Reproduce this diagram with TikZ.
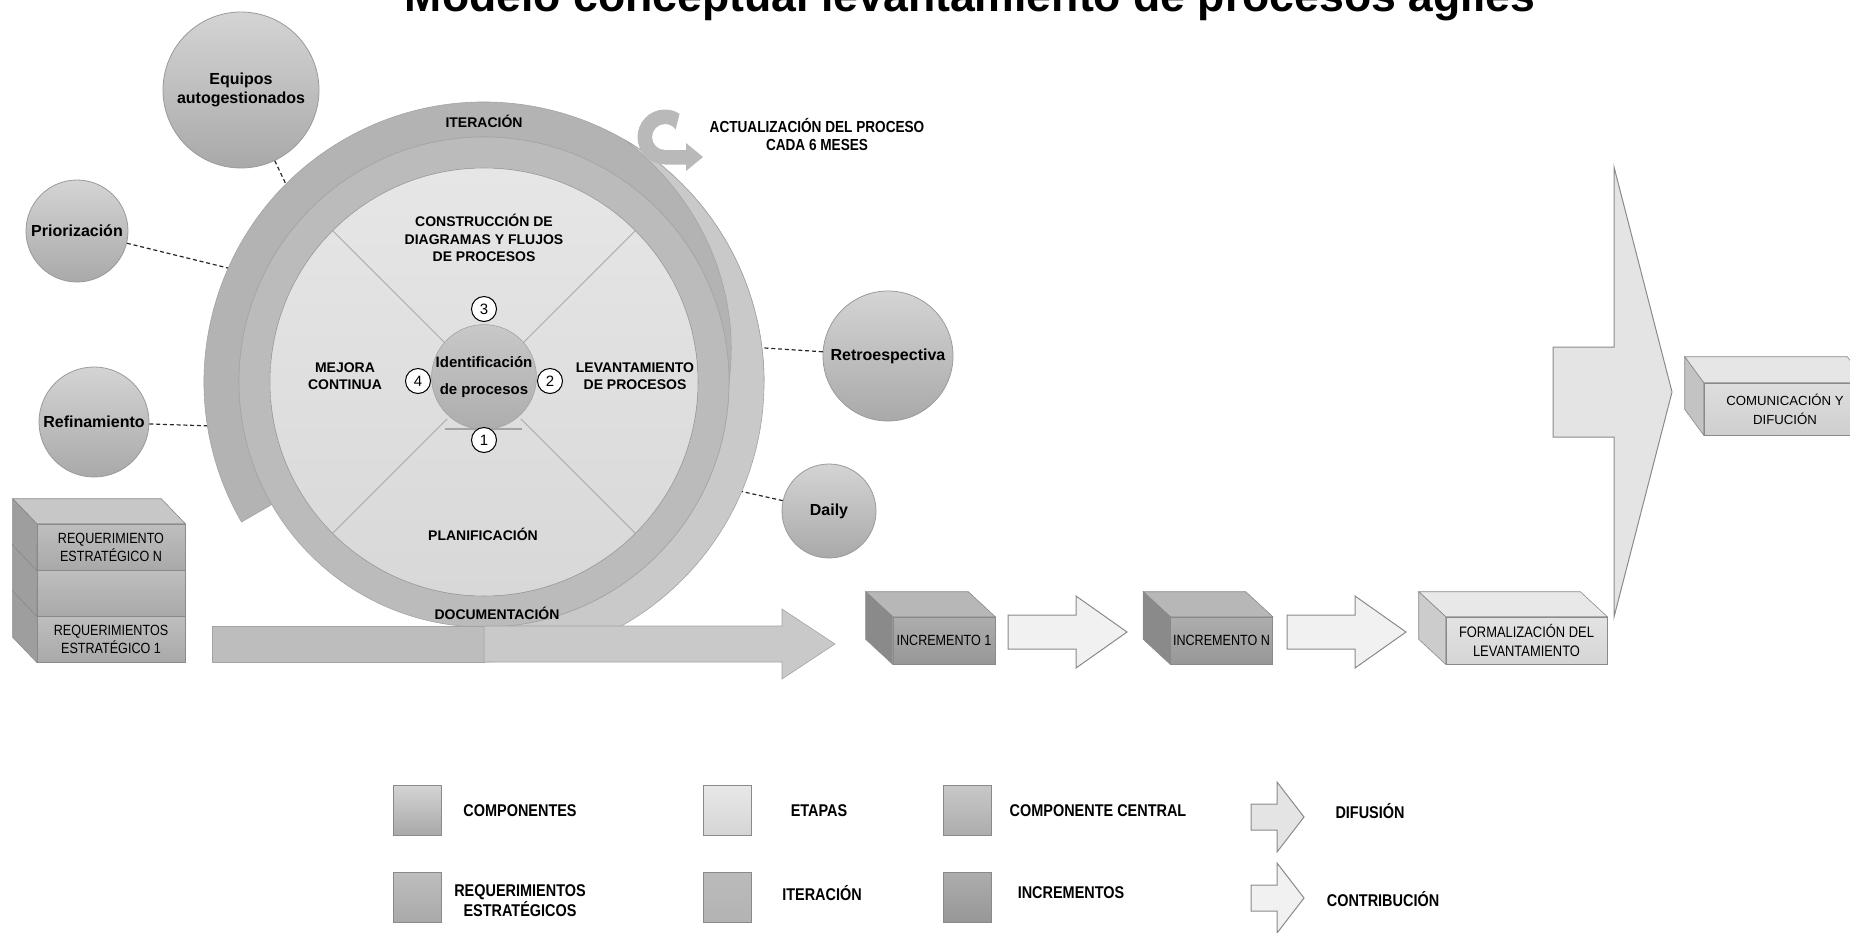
\documentclass[tikz,border=0pt]{standalone}
\usepackage{fontspec}
\setmainfont{Liberation Sans}
\newfontfamily\narrowfont[FakeStretch=0.85]{Liberation Sans}
\usetikzlibrary{calc}

\definecolor{iterband}{HTML}{B3B3B3}
\definecolor{spiralband}{HTML}{C9C9C9}
\definecolor{innerband}{HTML}{BBBBBB}
\definecolor{disktop}{HTML}{E6E6E6}
\definecolor{diskbot}{HTML}{D8D8D8}
\definecolor{ringline}{HTML}{A4A4A4}
\definecolor{quadline}{HTML}{A8A8A8}
\definecolor{arrowleft}{HTML}{BDBDBD}
\definecolor{bubtop}{HTML}{D4D4D4}
\definecolor{bubbot}{HTML}{A9A9A9}
\definecolor{bubline}{HTML}{9A9A9A}
\definecolor{centtop}{HTML}{C8C8C8}
\definecolor{centbot}{HTML}{ADADAD}
\definecolor{edgegray}{HTML}{8A8A8A}
\definecolor{reqtop}{HTML}{BEBEBE}
\definecolor{reqbot}{HTML}{A9A9A9}
\definecolor{reqtopface}{HTML}{C7C7C7}
\definecolor{reqside}{HTML}{9E9E9E}
\definecolor{inctop}{HTML}{ADADAD}
\definecolor{incbot}{HTML}{979797}
\definecolor{inctopface}{HTML}{B7B7B7}
\definecolor{incside}{HTML}{8A8A8A}
\definecolor{formtop}{HTML}{E3E3E3}
\definecolor{formbot}{HTML}{D5D5D5}
\definecolor{formtopface}{HTML}{E8E8E8}
\definecolor{formside}{HTML}{CCCCCC}
\definecolor{commtop}{HTML}{DEDEDE}
\definecolor{commbot}{HTML}{CFCFCF}
\definecolor{commtopface}{HTML}{E6E6E6}
\definecolor{commside}{HTML}{C3C3C3}
\definecolor{contribfill}{HTML}{F1F1F1}
\definecolor{spreadfill}{HTML}{E4E4E4}
\definecolor{updfill}{HTML}{B9B9B9}

\newcommand\cubefaces[5]{%
  \filldraw[fill=#4, draw=edgegray, line width=0.3pt] (#1.north west) -- ++(#2,#3) -- ($(#1.north east)+(#2,#3)$) -- (#1.north east) -- cycle;
  \filldraw[fill=#5, draw=edgegray, line width=0.3pt] (#1.north west) -- ++(#2,#3) -- ($(#1.south west)+(#2,#3)$) -- (#1.south west) -- cycle;}
\newcommand\blockarrow[7][]{%
  \filldraw[#1] (#2,#3-#7) -- (#4-#5,#3-#7) -- (#4-#5,#3-#6) -- (#4,#3) -- (#4-#5,#3+#6) -- (#4-#5,#3+#7) -- (#2,#3+#7) -- cycle;}

\tikzset{
  bubble/.style={circle, draw=bubline, line width=0.4pt, top color=bubtop, bottom color=bubbot, inner sep=0pt, align=center, font=\bfseries\fontsize{8}{9.5}\selectfont},
  linkline/.style={draw=black!85, line width=0.6pt, dash pattern=on 2pt off 1.4pt},
  ringlabel/.style={font=\bfseries\fontsize{7}{8.5}\selectfont, align=center},
  stagelabel/.style={font=\bfseries\fontsize{7}{8.6}\selectfont, align=center},
  numcircle/.style={circle, draw=black, line width=0.5pt, fill=white, minimum size=12.5pt, inner sep=0pt, font=\fontsize{7.5}{8}\selectfont},
  cubefront/.style={rectangle, draw=edgegray, line width=0.3pt, inner sep=0pt, align=center, font=\narrowfont\fontsize{7.4}{9}\selectfont},
  reqbox/.style={cubefront, minimum width=74pt, minimum height=23pt, top color=reqtop, bottom color=reqbot},
  incbox/.style={cubefront, minimum width=51pt, minimum height=23.5pt, top color=inctop, bottom color=incbot},
  formbox/.style={cubefront, minimum width=80.5pt, minimum height=23.5pt, top color=formtop, bottom color=formbot, font=\narrowfont\fontsize{7.6}{9.5}\selectfont},
  commbox/.style={cubefront, minimum width=81pt, minimum height=26pt, top color=commtop, bottom color=commbot, font=\fontsize{6.6}{9.5}\selectfont},
  legendsq/.style={rectangle, draw=edgegray, line width=0.3pt, minimum width=24pt, minimum height=25pt},
  legendtxt/.style={font=\narrowfont\bfseries\fontsize{8.5}{10}\selectfont, align=center},
  contrib/.style={draw=edgegray, line width=0.5pt, fill=contribfill},
  diffarrow/.style={draw=edgegray, line width=0.5pt, fill=spreadfill},
  ringedge/.style={draw=ringline, line width=0.3pt}
}

\begin{document}
\begin{tikzpicture}[x=0.5pt,y=-0.5pt]
\useasboundingbox (0,0) rectangle (1850,932);
\clip (0,0) rectangle (1850,932);

\node[anchor=base, font=\bfseries\fontsize{22.3}{26}\selectfont] (title) at (970,11) {Modelo conceptual levantamiento de procesos ágiles};

\coordinate (c) at (484,382);
\node[circle, minimum size=280pt, inner sep=0pt] (ring) at (c) {};
\filldraw[fill=iterband, ringedge] ($(c)+(150:280)$) arc[start angle=150, end angle=360, radius=280] -- ($(c)+(0:245)$) arc[start angle=360, end angle=150, radius=245] -- cycle;
\filldraw[fill=spiralband, ringedge] ($(c)+(300:280)$) arc[start angle=300, end angle=450, radius=280] -- ($(c)+(90:245)$) arc[start angle=90, end angle=0, radius=245] -- plot[domain=360:300, samples=30] ({484+(245+35*(360-\x)/60)*cos(\x)}, {382+(245+35*(360-\x)/60)*sin(\x)}) -- cycle;
\filldraw[fill=innerband, ringedge] (c) circle[radius=245];
\filldraw[top color=disktop, bottom color=diskbot, ringedge] (c) circle[radius=214];

\filldraw[fill=arrowleft, ringedge] (212,626) rectangle (484,662);
\blockarrow[fill=spiralband, ringedge]{484}{644}{835}{53}{35}{18}

\foreach \a in {45,135,225,315}
  \draw[quadline, line width=0.5pt] ($(c)+(\a:52)$) -- ($(c)+(\a:214)$);

\node[circle, minimum size=52pt, inner sep=0pt, top color=centtop, bottom color=centbot, draw=ringline, line width=0.3pt, align=center, font=\bfseries\fontsize{7.5}{13.5}\selectfont] (ident) at (484,377) {Identificación\\de procesos};
\draw[ringline, line width=0.6pt] (445,429) -- (522,429);

\node[numcircle] (n3) at (484,309) {3};
\node[numcircle] (n2) at (550,381) {2};
\node[numcircle] (n4) at (418,381) {4};
\node[numcircle] (n1) at (484,440) {1};

\node[stagelabel] (build) at (484,238) {CONSTRUCCIÓN DE\\DIAGRAMAS Y FLUJOS\\DE PROCESOS};
\node[stagelabel] (improve) at (345,376) {MEJORA\\CONTINUA};
\node[stagelabel] (survey) at (635,376) {LEVANTAMIENTO\\DE PROCESOS};
\node[stagelabel] (plan) at (483,534) {PLANIFICACIÓN};
\node[ringlabel] (iterlbl) at (484,121) {ITERACIÓN};
\node[ringlabel] (doclbl) at (497,613) {DOCUMENTACIÓN};

\coordinate (cc) at (665,137);
\fill[updfill] ($(cc)+(-58:27.5)$) arc[start angle=-58, end angle=-270, radius=27.5] -- (686,164.5) -- (686,171) -- (703,157) -- (686,143) -- (686,150) -- ($(cc)+(90:13)$) arc[start angle=90, end angle=325, radius=13] -- cycle;
\node[font=\narrowfont\bfseries\fontsize{8}{9}\selectfont, align=center] (update) at (817,134) {ACTUALIZACIÓN DEL PROCESO\\CADA 6 MESES};

\node[bubble, minimum size=78pt] (teams) at (241,90) {Equipos\\autogestionados};
\node[bubble, minimum size=51pt] (prio) at (77,231) {Priorización};
\node[bubble, minimum size=55pt] (refine) at (94,422) {Refinamiento};
\node[bubble, minimum size=65pt] (retro) at (888,356) {Retroespectiva};
\node[bubble, minimum size=47pt] (daily) at (829,511) {Daily};

\draw[linkline] (teams) -- (ring.135);
\draw[linkline] (prio) -- (ring.156);
\draw[linkline] (refine) -- (ring.189);
\draw[linkline] (retro) -- (ring.7);
\draw[linkline] (daily) -- (ring.-23);

\node[reqbox] (req1) at (111,639) {REQUERIMIENTOS\\ESTRATÉGICO 1};
\cubefaces{req1}{-24}{-25}{reqtopface}{reqside}
\node[reqbox] (reqmid) at (111,593) {};
\cubefaces{reqmid}{-24}{-25}{reqtopface}{reqside}
\node[reqbox] (reqN) at (111,547) {REQUERIMIENTO\\ESTRATÉGICO N};
\cubefaces{reqN}{-24}{-25}{reqtopface}{reqside}

\node[incbox] (inc1) at (944,640.5) {INCREMENTO 1};
\cubefaces{inc1}{-27}{-25}{inctopface}{incside}
\node[incbox] (incN) at (1221.5,640.5) {INCREMENTO N};
\cubefaces{incN}{-27}{-25}{inctopface}{incside}
\node[formbox] (formal) at (1526.5,640.5) {FORMALIZACIÓN DEL\\LEVANTAMIENTO};
\cubefaces{formal}{-27}{-25}{formtopface}{formside}
\node[commbox] (comm) at (1785,409) {COMUNICACIÓN Y\\DIFUCIÓN};
\cubefaces{comm}{-19}{-26}{commtopface}{commside}

\blockarrow[contrib]{1008}{632}{1127}{51}{36}{17}
\blockarrow[contrib]{1287}{632}{1406}{51}{36}{17}
\blockarrow[diffarrow]{1553}{392}{1672}{58}{225}{45}

\node[legendsq, top color=bubtop, bottom color=bubbot] (lgcomp) at (417,810) {};
\node[legendtxt] (lgcomptxt) at (520,811) {COMPONENTES};
\node[legendsq, top color=formtopface, bottom color=formbot] (lgstage) at (727,810) {};
\node[legendtxt] (lgstagetxt) at (819,811) {ETAPAS};
\node[legendsq, top color=centtop, bottom color=centbot] (lgcent) at (967,810) {};
\node[legendtxt] (lgcenttxt) at (1098,811) {COMPONENTE CENTRAL};
\blockarrow[diffarrow]{1251}{817}{1304}{27}{35}{13}
\node[legendtxt] (lgdifftxt) at (1370,811) {DIFUSIÓN};

\node[legendsq, top color=reqtop, bottom color=reqbot] (lgreq) at (417,897) {};
\node[legendtxt] (lgreqtxt) at (520,901) {REQUERIMIENTOS\\ESTRATÉGICOS};
\node[legendsq, top color=innerband, bottom color=iterband] (lgiter) at (727,897) {};
\node[legendtxt] (lgitertxt) at (822,893) {ITERACIÓN};
\node[legendsq, top color=inctop, bottom color=incbot] (lginc) at (967,897) {};
\node[legendtxt] (lginctxt) at (1071,893) {INCREMENTOS};
\blockarrow[contrib]{1251}{898}{1304}{27}{35}{13}
\node[legendtxt] (lgcontxt) at (1383,899) {CONTRIBUCIÓN};
\end{tikzpicture}
\end{document}
